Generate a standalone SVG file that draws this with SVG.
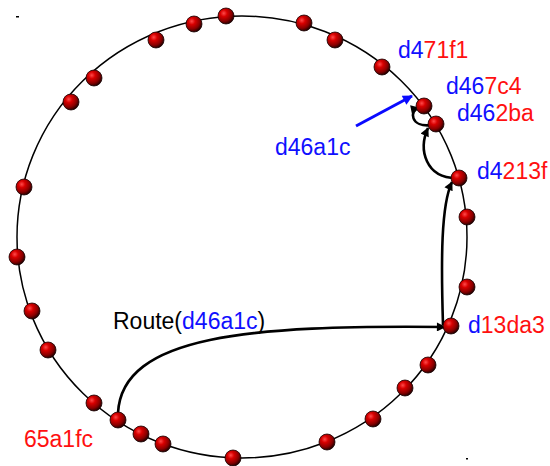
<svg xmlns="http://www.w3.org/2000/svg" width="550" height="466" viewBox="0 0 550 466">
  <defs>
    <radialGradient id="ball" cx="0.36" cy="0.33" r="0.7">
      <stop offset="0" stop-color="#ff4a4a"/>
      <stop offset="0.3" stop-color="#d80000"/>
      <stop offset="0.7" stop-color="#8a0000"/>
      <stop offset="1" stop-color="#200000"/>
    </radialGradient>
    <marker id="head" viewBox="0 0 10 10" refX="9" refY="5" markerWidth="11" markerHeight="9" markerUnits="userSpaceOnUse" orient="auto">
      <path d="M0,0 L10,5 L0,10 z" fill="#000"/>
    </marker>
    <marker id="headBlue" viewBox="0 0 10 10" refX="9" refY="5" markerWidth="12" markerHeight="10" markerUnits="userSpaceOnUse" orient="auto">
      <path d="M0,0 L10,5 L0,10 z" fill="#0a0aff"/>
    </marker>
  </defs>
  <style>
    .ring { fill: none; stroke: #000; stroke-width: 1.5; }
    .node { fill: url(#ball); stroke: #150000; stroke-width: 0.8; }
    .route { fill: none; stroke: #000; stroke-width: 2.6; marker-end: url(#head); }
    .ptr { fill: none; stroke: #0a0aff; stroke-width: 3; marker-end: url(#headBlue); }
    text { font-family: "Liberation Sans", Arial, sans-serif; font-size: 23px; }
    .b { fill: #1010ff; }
    .r { fill: #ff1010; }
    .k { fill: #000; }
  </style>

  <rect width="550" height="466" fill="#fff"/>
  <rect x="16" y="16" width="3" height="1.5" fill="#000"/>
  <rect x="466" y="458" width="2" height="1.5" fill="#000"/>

  <!-- identifier ring -->
  <ellipse class="ring" cx="242" cy="237" rx="225" ry="221"/>

  <!-- routing hops -->
  <g id="connectors">
    <path class="route" d="M118,413 C122,335 250,325 445,327"/>
    <path class="route" d="M443,325 C441,260 441,205 452,182"/>
    <path class="route" d="M456,178 C426,178 418,150 428,128"/>
    <path class="route" d="M432,125 C410,128 409,110 419,108"/>
    <path class="ptr" d="M356,126 L412,96"/>
  </g>

  <!-- nodes on the ring -->
  <g id="nodes">
    <circle class="node" cx="71" cy="102" r="8"/>
    <circle class="node" cx="94" cy="78" r="8"/>
    <circle class="node" cx="156" cy="40" r="8"/>
    <circle class="node" cx="194" cy="24" r="8"/>
    <circle class="node" cx="226" cy="16" r="8"/>
    <circle class="node" cx="304" cy="23" r="8"/>
    <circle class="node" cx="335" cy="40" r="8"/>
    <circle class="node" cx="382" cy="67" r="8"/>
    <circle class="node" cx="467" cy="217" r="8"/>
    <circle class="node" cx="467" cy="287" r="8"/>
    <circle class="node" cx="428" cy="365" r="8"/>
    <circle class="node" cx="405" cy="388" r="8"/>
    <circle class="node" cx="373" cy="419" r="8"/>
    <circle class="node" cx="327" cy="442" r="8"/>
    <circle class="node" cx="233" cy="458" r="8"/>
    <circle class="node" cx="163" cy="444" r="8"/>
    <circle class="node" cx="141" cy="434" r="8"/>
    <circle class="node" cx="94" cy="403" r="8"/>
    <circle class="node" cx="48" cy="350" r="8"/>
    <circle class="node" cx="32" cy="311" r="8"/>
    <circle class="node" cx="17" cy="257" r="8"/>
    <circle class="node" cx="24" cy="187" r="8"/>
  </g>

  <g id="n-d471f1">
    <text x="398" y="58"><tspan class="b">d4</tspan><tspan class="r">71f1</tspan></text>
  </g>
  <g id="n-d467c4">
    <circle class="node" cx="424" cy="106" r="8"/>
    <text x="446" y="94"><tspan class="b">d46</tspan><tspan class="r">7c4</tspan></text>
  </g>
  <g id="n-d462ba">
    <circle class="node" cx="436" cy="124" r="8"/>
    <text x="457" y="121"><tspan class="b">d46</tspan><tspan class="r">2ba</tspan></text>
  </g>
  <g id="n-d4213f">
    <circle class="node" cx="459" cy="178" r="8"/>
    <text x="477" y="179"><tspan class="b">d4</tspan><tspan class="r">213f</tspan></text>
  </g>
  <g id="n-d13da3">
    <circle class="node" cx="451" cy="326" r="8"/>
    <text x="468" y="333"><tspan class="b">d</tspan><tspan class="r">13da3</tspan></text>
  </g>
  <g id="n-65a1fc">
    <circle class="node" cx="118" cy="420" r="8"/>
    <text x="24" y="447" class="r">65a1fc</text>
  </g>
  <g id="key">
    <text x="275" y="155" class="b">d46a1c</text>
  </g>
  <g id="route-label">
    <text x="113" y="329"><tspan class="k">Route(</tspan><tspan class="b">d46a1c</tspan><tspan class="k">)</tspan></text>
  </g>
</svg>
